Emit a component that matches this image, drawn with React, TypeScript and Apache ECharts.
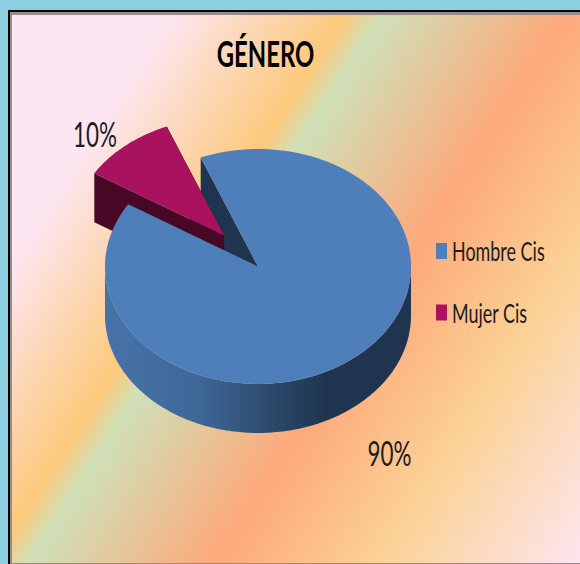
import React, { useEffect, useRef } from "react";
import * as echarts from "echarts";

const titleText = "GÉNERO";
const categories = ["Hombre Cis", "Mujer Cis"];
const values = [90, 10];
const percentLabels = ["90%", "10%"];
const topColors = ["#4E7FBB", "#A8125F"];
const cutColors = ["#1F354F", "#470826"];

const FONT = "Lato, 'Open Sans', sans-serif";
const CX = 258;
const CY = 266.5;
const RX = 153;
const RY = 117.5;
const DEPTH = 49;
const START_DEG = -22;
const EXPLODE = 0.345;

const total = values.reduce((a, b) => a + b, 0);
const toRad = (d: number) => (d * Math.PI) / 180;

function sliceSpan(i: number) {
  const before = values.slice(0, i).reduce((a, b) => a + b, 0);
  const from = START_DEG + (before / total) * 360;
  return { from, to: from + (values[i] / total) * 360 };
}

function sliceCenter(i: number) {
  if (i === 0) return [CX, CY];
  const { from, to } = sliceSpan(i);
  const mid = toRad((from + to) / 2);
  return [CX + Math.sin(mid) * RX * EXPLODE, CY - Math.cos(mid) * RY * EXPLODE];
}

function arcPoints(c: number[], from: number, to: number, dy = 0) {
  const pts: number[][] = [];
  const n = Math.max(4, Math.ceil(Math.abs(to - from)));
  for (let k = 0; k <= n; k++) {
    const a = toRad(from + ((to - from) * k) / n);
    pts.push([c[0] + Math.sin(a) * RX, c[1] - Math.cos(a) * RY + dy]);
  }
  return pts;
}

function renderSlice(i: number) {
  return () => {
    const { from, to } = sliceSpan(i);
    const c = sliceCenter(i);
    const wallZ = i === 0 ? 1 : 2;
    const topZ = i === 0 ? 4 : 3;
    const children: any[] = [];

    const wallFrom = Math.max(from, 90);
    const wallTo = Math.min(to, 270);
    if (wallTo > wallFrom) {
      const upper = arcPoints(c, wallFrom, wallTo);
      const lower = arcPoints(c, wallTo, wallFrom, DEPTH);
      children.push({
        type: "polygon",
        z2: wallZ,
        shape: { points: upper.concat(lower) },
        style: {
          fill: new echarts.graphic.LinearGradient(
            c[0] - RX, 0, c[0] + RX, 0,
            [
              { offset: 0, color: "#4673A8" },
              { offset: 0.3, color: "#3E6898" },
              { offset: 0.5, color: "#304F74" },
              { offset: 0.65, color: "#233D5A" },
              { offset: 0.72, color: "#1F354F" },
              { offset: 1, color: "#1F354F" },
            ],
            true
          ),
        },
      });
    }

    [from, to].forEach((deg) => {
      const a = toRad(deg);
      const rim = [c[0] + Math.sin(a) * RX, c[1] - Math.cos(a) * RY];
      children.push({
        type: "polygon",
        z2: wallZ,
        shape: {
          points: [c, rim, [rim[0], rim[1] + DEPTH], [c[0], c[1] + DEPTH]],
        },
        style: { fill: cutColors[i] },
      });
    });

    children.push({
      type: "polygon",
      z2: topZ,
      shape: { points: [c].concat(arcPoints(c, from, to)) },
      style: { fill: topColors[i] },
    });

    const labelPos = i === 0 ? [389.5, 453.5] : [95, 134.5];
    children.push({
      type: "text",
      z2: 6,
      x: labelPos[0],
      y: labelPos[1],
      scaleX: 0.66,
      style: {
        text: percentLabels[i],
        font: `34px ${FONT}`,
        fill: "#1c1c1c",
        align: "center",
        verticalAlign: "middle",
      },
    });

    const rowY = 251 + i * 61.5;
    children.push({
      type: "rect",
      z2: 6,
      shape: { x: 436, y: rowY - 8, width: 11, height: 16 },
      style: { fill: topColors[i] },
    });
    children.push({
      type: "text",
      z2: 6,
      x: 452,
      y: rowY + 0.5,
      scaleX: 0.69,
      style: {
        text: categories[i],
        font: `26px ${FONT}`,
        fill: "#1c1c1c",
        align: "left",
        verticalAlign: "middle",
      },
    });

    return { type: "group", children };
  };
}

export default function App() {
  const ref = useRef<HTMLDivElement>(null);
  useEffect(() => {
    const chart = echarts.init(ref.current!, undefined, { renderer: "svg" });
    chart.setOption({
      animation: false,
      backgroundColor: "#8CCFE0",
      graphic: [
        { type: "rect", z: -3, shape: { x: 8, y: 10, width: 572, height: 554 }, style: { fill: "#000000" } },
        { type: "rect", z: -2, shape: { x: 10, y: 12, width: 570, height: 552 }, style: { fill: "#8F8F8F" } },
        {
          type: "rect",
          z: -1,
          shape: { x: 12, y: 15, width: 568, height: 548 },
          style: {
            fill: new echarts.graphic.LinearGradient(
              11, 14, 663, 435,
              [
                { offset: 0, color: "#FDE6F4" },
                { offset: 0.171, color: "#FDE6F2" },
                { offset: 0.364, color: "#FCC97C" },
                { offset: 0.402, color: "#D0E0B8" },
                { offset: 0.603, color: "#FDA97A" },
                { offset: 0.782, color: "#FBD296" },
                { offset: 1, color: "#FDE5EF" },
              ],
              true
            ),
          },
        },
        {
          type: "text",
          z: 5,
          x: 265.5,
          y: 53,
          scaleX: 0.645,
          style: {
            text: titleText,
            font: `bold 37px ${FONT}`,
            fill: "#000000",
            align: "center",
            verticalAlign: "middle",
          },
        },
      ],
      series: categories.map((name, i) => ({
        type: "custom",
        name,
        coordinateSystem: "none",
        silent: true,
        itemStyle: { color: topColors[i] },
        data: [[values[i]]],
        renderItem: renderSlice(i),
      })),
    });
    return () => chart.dispose();
  }, []);
  return (
    <div
      ref={ref}
      style={{ position: "absolute", left: 0, top: 0, width: 580, height: 564 }}
    />
  );
}
